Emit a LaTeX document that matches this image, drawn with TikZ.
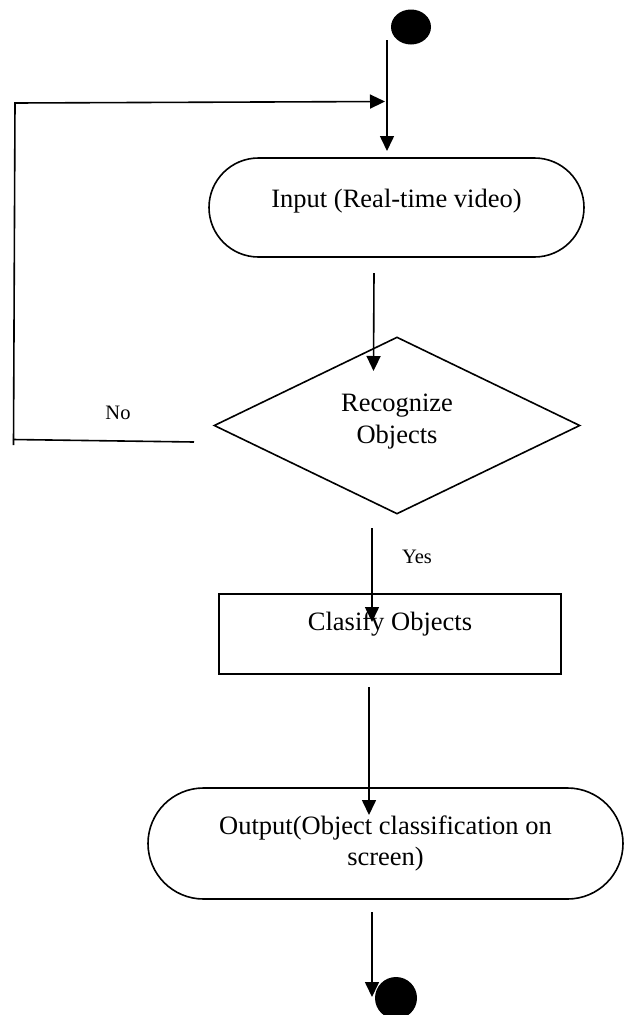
\documentclass[tikz,border=0pt]{standalone}
\usepackage{fontspec}
\setmainfont{Liberation Serif}
\usetikzlibrary{shapes.geometric,shapes.misc,arrows.meta}

\begin{document}
\begin{tikzpicture}[x=1pt, y=-1pt, line width=1.6pt,
  font=\fontsize{26.5}{31}\selectfont,
  flow/.style={-{Triangle[length=15pt,width=14pt]}},
  terminal/.style={draw, rounded rectangle, inner sep=0pt, align=center},
  decision/.style={draw, diamond, aspect=2, inner sep=0pt, align=center},
  process/.style={draw, rectangle, inner sep=0pt},
  dot/.style={ellipse, fill=black, inner sep=0pt},
  small/.style={font=\fontsize{20.5}{24}\selectfont}]
  \useasboundingbox (0,0) rectangle (633,1015);

  % nodes
  \node[dot, minimum width=40pt, minimum height=35pt] (start) at (411,27) {};
  \node[terminal, minimum width=375pt, minimum height=99pt, text height=18pt, text depth=19pt] (input) at (396.5,207.5) {Input (Real-time video)};
  \node[decision, minimum width=366pt, minimum height=177pt, text height=49.5pt, text depth=14.5pt,
    font=\fontsize{26.5}{32}\selectfont] (recog) at (397,425.5) {Recognize\\Objects};
  \node[process, minimum width=342pt, minimum height=80pt, text height=18pt, text depth=26pt] (classify) at (390,634) {Clasify Objects};
  \node[terminal, minimum width=475pt, minimum height=111pt] (output) at (385.5,843.5) {Output(Object classification on\\screen)};
  \node[dot, minimum size=42pt] (stop) at (396,998) {};

  % labels
  \node[small] (no) at (118,413) {No};
  \node[small] (yes) at (417,557) {Yes};

  % connector ends
  \coordinate (a1s) at (387,40);
  \coordinate (a1e) at (387,151);
  \coordinate (a2s) at (374,273);
  \coordinate (a2e) at (373.5,371);
  \coordinate (a3s) at (372,528);
  \coordinate (a3e) at (372,622);
  \coordinate (a4s) at (369,687);
  \coordinate (a4e) at (369,815);
  \coordinate (a5s) at (372,912);
  \coordinate (a5e) at (372,997);
  \coordinate (nob) at (194,442);
  \coordinate (noc) at (13,439.5);
  \coordinate (nod) at (13.5,445);
  \coordinate (noe) at (15,103);
  \coordinate (nof) at (385,101.5);

  \draw[flow] (a1s) -- (a1e);
  \draw[flow] (a2s) -- (a2e);
  \draw[flow] (a3s) -- (a3e);
  \draw[flow] (a4s) -- (a4e);
  \draw[flow] (a5s) -- (a5e);
  \draw (nob) -- (noc);
  \draw[flow] (nod) -- (noe) -- (nof);
\end{tikzpicture}
\end{document}
